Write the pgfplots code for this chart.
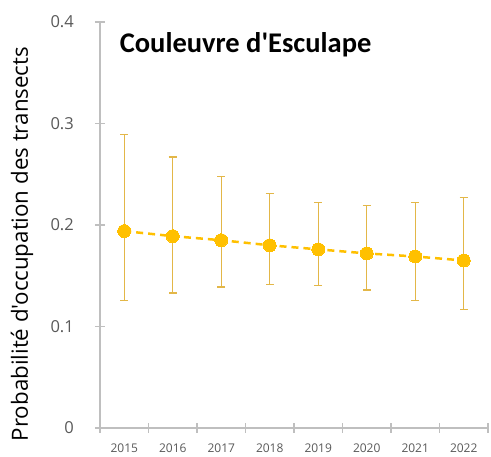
\documentclass[border=0pt]{standalone}
\usepackage{pgfplots}
\pgfplotsset{compat=1.18}
\usepackage{fontspec}
\setmainfont{Carlito}[Ligatures=TeXOff]
\newfontfamily\osans{Open Sans}[Ligatures=TeXOff]
\definecolor{gold}{HTML}{FFC000}
\definecolor{errcol}{HTML}{E3B748}
\definecolor{axcol}{HTML}{BFBFBF}
\definecolor{tickcol}{HTML}{595959}
\begin{document}
\begin{tikzpicture}
\useasboundingbox (-100pt,-29pt) rectangle (391pt,428pt);
\begin{axis}[
  at={(0,0)}, anchor=south west,
  scale only axis, width=388pt, height=406pt,
  xmin=0.5, xmax=8.5, ymin=0, ymax=0.4,
  axis x line=bottom, axis y line=left,
  axis line style={draw=axcol, line width=1.2pt, -},
  xtick={1,...,8},
  xticklabels={2015,2016,2017,2018,2019,2020,2021,2022},
  minor xtick={0.5,1.5,...,8.5},
  ytick={0,0.1,0.2,0.3,0.4},
  yticklabel style={/pgf/number format/fixed, /pgf/number format/precision=1},
  /pgf/number format/assume math mode=true,
  major x tick style={draw=none},
  minor tick length=10pt,
  major tick length=10pt,
  tick align=center,
  every tick/.style={draw=axcol, line width=1.2pt},
  x tick label style={font=\osans\fontsize{12}{14}\selectfont, text=tickcol, anchor=north, inner sep=0pt, text height=8.6pt, text depth=0pt, yshift=-11pt},
  y tick label style={font=\osans\fontsize{16.5}{20}\selectfont, text=tickcol, anchor=east, inner sep=0pt, xshift=-21pt},
  ylabel={Probabilité d'occupation des transects},
  ylabel style={font=\osans\fontsize{22.3}{26}\selectfont, at={(axis description cs:-0.201,0.453)}, anchor=center},
  clip=false,
]
\addplot[only marks, mark=none, forget plot,
  error bars/.cd, y dir=both, y explicit,
  error bar style={draw=errcol, line width=1.2pt, solid},
  error mark options={draw=errcol, rotate=90, mark size=4pt, line width=1.2pt}]
  table[x=x, y=y, y error plus=ep, y error minus=em] {
x y ep em
1 0.194 0.095 0.068
2 0.189 0.078 0.056
3 0.185 0.063 0.046
4 0.180 0.051 0.039
5 0.176 0.046 0.036
6 0.172 0.047 0.036
7 0.169 0.053 0.043
8 0.165 0.062 0.048
};
\addplot[draw=gold, line width=2.5pt, dash pattern=on 7pt off 5pt,
  mark=*, mark size=6.5pt, mark options={solid, fill=gold, draw=gold, line width=0pt}]
  table[x=x, y=y] {
x y
1 0.194
2 0.189
3 0.185
4 0.180
5 0.176
6 0.172
7 0.169
8 0.165
};
\node[anchor=west, font=\bfseries\fontsize{28.5}{32}\selectfont] at (rel axis cs:0.042,0.943) {Couleuvre d'Esculape};
\end{axis}
\end{tikzpicture}
\end{document}
